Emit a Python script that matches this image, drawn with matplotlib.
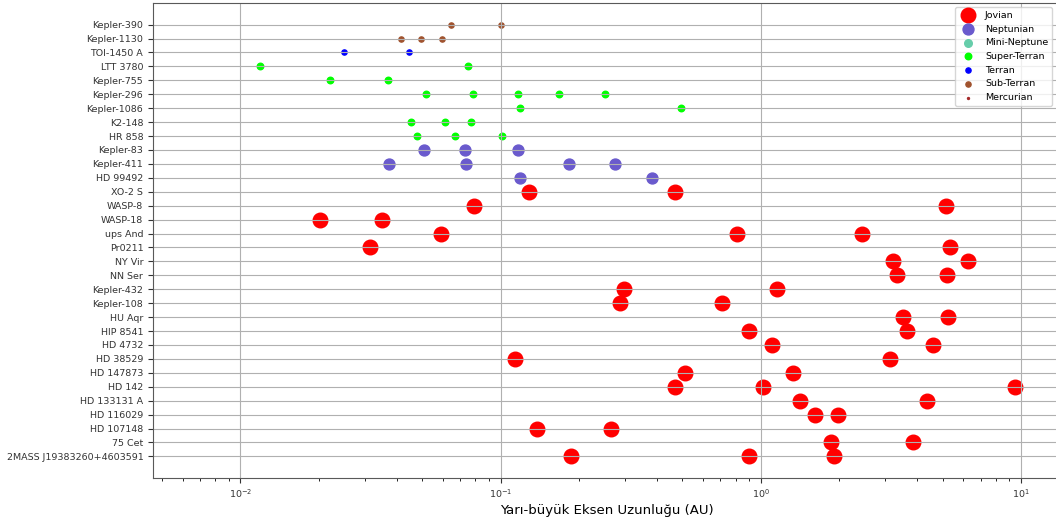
import matplotlib.pyplot as plt
import numpy as np

# host stars, top to bottom
stars = ["Kepler-390", "Kepler-1130", "TOI-1450 A", "LTT 3780", "Kepler-755",
         "Kepler-296", "Kepler-1086", "K2-148", "HR 858", "Kepler-83",
         "Kepler-411", "HD 99492", "XO-2 S", "WASP-8", "WASP-18", "ups And",
         "Pr0211", "NY Vir", "NN Ser", "Kepler-432", "Kepler-108", "HU Aqr",
         "HIP 8541", "HD 4732", "HD 38529", "HD 147873", "HD 142",
         "HD 133131 A", "HD 116029", "HD 107148", "75 Cet",
         "2MASS J19383260+4603591"]

# semi-major axes (AU) per planet class
jovian_hosts = ["XO-2 S", "XO-2 S", "WASP-8", "WASP-8", "WASP-18", "WASP-18",
                "ups And", "ups And", "ups And", "Pr0211", "Pr0211",
                "NY Vir", "NY Vir", "NN Ser", "NN Ser", "Kepler-432", "Kepler-432",
                "Kepler-108", "Kepler-108", "HU Aqr", "HU Aqr",
                "HIP 8541", "HIP 8541", "HD 4732", "HD 4732",
                "HD 38529", "HD 38529", "HD 147873", "HD 147873",
                "HD 142", "HD 142", "HD 142", "HD 133131 A", "HD 133131 A",
                "HD 116029", "HD 116029", "HD 107148", "HD 107148",
                "75 Cet", "75 Cet", "2MASS J19383260+4603591",
                "2MASS J19383260+4603591", "2MASS J19383260+4603591"]
jovian_a = [0.1285, 0.4686, 0.0793, 5.13, 0.0202, 0.0349,
            0.0588, 0.8135, 2.453, 0.0316, 5.34,
            3.22, 6.25, 3.34, 5.20, 0.297, 1.154,
            0.287, 0.708, 3.51, 5.26,
            0.903, 3.64, 1.104, 4.61,
            0.1134, 3.13, 0.5128, 1.330,
            0.4676, 1.018, 9.52, 1.413, 4.37,
            1.614, 1.977, 0.1382, 0.2647,
            1.862, 3.83, 0.1858, 0.903, 1.920]

neptunian_hosts = ["Kepler-83", "Kepler-83", "Kepler-83",
                   "Kepler-411", "Kepler-411", "Kepler-411", "Kepler-411",
                   "HD 99492", "HD 99492"]
neptunian_a = [0.0508, 0.0727, 0.1171,
               0.0373, 0.0734, 0.1836, 0.2753,
               0.1189, 0.3803]

super_terran_hosts = ["LTT 3780", "LTT 3780", "Kepler-755", "Kepler-755",
                      "Kepler-296", "Kepler-296", "Kepler-296", "Kepler-296",
                      "Kepler-296", "Kepler-1086", "Kepler-1086",
                      "K2-148", "K2-148", "K2-148", "HR 858", "HR 858", "HR 858"]
super_terran_a = [0.01193, 0.0749, 0.0220, 0.0369,
                  0.0519, 0.0782, 0.1162, 0.1671,
                  0.2522, 0.1189, 0.4953,
                  0.0451, 0.0611, 0.0768, 0.0476, 0.0668, 0.1016]

terran_hosts = ["TOI-1450 A", "TOI-1450 A"]
terran_a = [0.0249, 0.0446]

sub_terran_hosts = ["Kepler-390", "Kepler-390",
                    "Kepler-1130", "Kepler-1130", "Kepler-1130"]
sub_terran_a = [0.0644, 0.1000, 0.0416, 0.0495, 0.0594]

classes = [
    ("Jovian", "red", 110, jovian_hosts, jovian_a),
    ("Neptunian", "slateblue", 62, neptunian_hosts, neptunian_a),
    ("Mini-Neptune", "mediumaquamarine", 30, [], []),
    ("Super-Terran", "lime", 22, super_terran_hosts, super_terran_a),
    ("Terran", "blue", 14, terran_hosts, terran_a),
    ("Sub-Terran", "sienna", 14, sub_terran_hosts, sub_terran_a),
    ("Mercurian", "brown", 2, [], []),
]

fig = plt.figure(figsize=(10.56, 5.18), dpi=100)
ax = fig.add_axes([153 / 1056, 40 / 518, 907 / 1056, 475 / 518])

row = {name: i for i, name in enumerate(stars)}
for label, color, size, hosts, a in classes:
    y = [row[h] for h in hosts]
    ax.scatter(a, y, s=size, c=color, label=label)

ax.set_xscale("log")
ax.set_xlim(10 ** -2.336, 10 ** 1.150)
ax.set_yticks(np.arange(len(stars)))
ax.set_yticklabels(stars)
ax.set_ylim(len(stars) - 1 + 1.55, -1.55)
ax.tick_params(labelsize=6.8, colors="0.2")
ax.grid(True)
for spine in ax.spines.values():
    spine.set_edgecolor("0.35")
ax.set_xlabel("Yarı-büyük Eksen Uzunluğu (AU)", fontsize=9.5, labelpad=3)

ax.legend(loc="upper right", bbox_to_anchor=(1052 / 1056, 511 / 518),
          bbox_transform=fig.transFigure, borderaxespad=0, fontsize=6.8)

fig.savefig("out.png", dpi=100)
